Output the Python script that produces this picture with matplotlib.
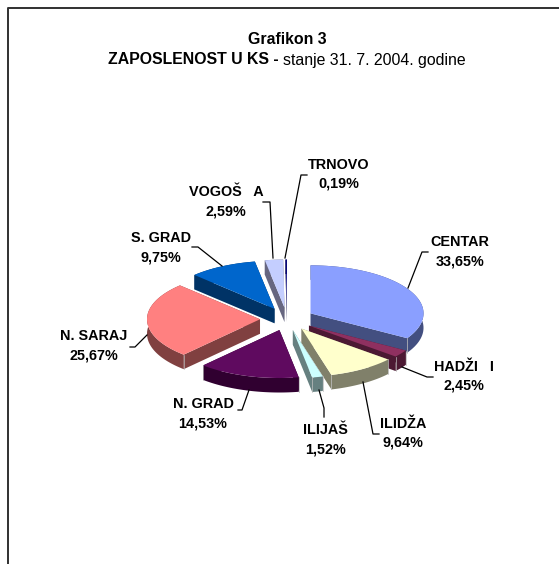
import numpy as np
import matplotlib
matplotlib.use("Agg")
import matplotlib.pyplot as plt
from matplotlib.patches import Polygon

plt.rcParams["font.family"] = ["Liberation Sans", "DejaVu Sans"]

names = ["CENTAR", "HADŽI   I", "ILIDŽA", "ILIJAŠ", "N. GRAD", "N. SARAJ", "S. GRAD", "VOGOŠ   A", "TRNOVO"]
labels = ["33,65%", "2,45%", "9,64%", "1,52%", "14,53%", "25,67%", "9,75%", "2,59%", "0,19%"]
values = [33.65, 2.45, 9.64, 1.52, 14.53, 25.67, 9.75, 2.59, 0.19]
top_colors = ["#8A9FFF", "#8F3060", "#FFFFCC", "#CCFFFF", "#5F0A5F", "#FF8080", "#0066CC", "#C4CEFF", "#000080"]
side_colors = ["#434F80", "#4C1933", "#80806A", "#668080", "#300030", "#804040", "#003366", "#666680", "#000040"]

# pixel layout
cx, cy = 287, 319
rx, ry = 113, 48
depth = 14.5
explode = 27

# text centre, then leader line points
label_pos = [(460, 251.5), (464, 376.5), (403, 433), (325, 440), (203, 413.5), (94, 345.5), (161, 247.5), (226, 201.5), (339, 174.5)]
leaders = [
    [(428, 252), (422, 252), (408, 288)],
    [(402, 367), (427, 377), (433, 377)],
    [(363, 382), (373, 434), (379, 434)],
    [(319, 390), (324, 408), (324, 417)],
    [(249, 390), (242, 410), (238, 410)],
    [(147, 335), (135, 347), (130, 347)],
    [(192, 247), (198, 247), (222, 266)],
    [(263, 202), (270, 202), (273, 258)],
    [(307, 175), (301, 175), (285, 258)],
]


def point(x0, y0, a):
    return x0 + rx * np.sin(a), y0 - ry * np.cos(a)


def draw_wedge(ax, start, end, top, side):
    mid = (start + end) / 2
    x0 = cx + explode * np.sin(mid)
    y0 = cy - explode * (ry / rx) * np.cos(mid)
    angles = np.linspace(start, end, 60)
    arc_x, arc_y = point(x0, y0, angles)
    for a in (start, end):
        ex, ey = point(x0, y0, a)
        wall = [(x0, y0), (ex, ey), (ex, ey + depth), (x0, y0 + depth)]
        ax.add_patch(Polygon(wall, fc=side, ec="none"))
    outer = list(zip(arc_x, arc_y)) + list(zip(arc_x[::-1], arc_y[::-1] + depth))
    ax.add_patch(Polygon(outer, fc=side, ec="none"))
    face = [(x0, y0)] + list(zip(arc_x, arc_y))
    ax.add_patch(Polygon(face, fc=top, ec="none"))
    for a in (start, end):
        ex, ey = point(x0, y0, a)
        if ey > y0 - 1 and np.sin(a) != 0:
            ax.plot([ex, ex], [ey, ey + depth], color="#B8B8B8", lw=0.5)


fig = plt.figure(figsize=(5.59, 5.64), dpi=100)
ax = fig.add_axes([0, 0, 1, 1])
ax.set_xlim(0, 559)
ax.set_ylim(564, 0)
ax.axis("off")

# frame runs off the page at right and bottom
ax.plot([8, 8, 559], [564, 8, 8], color="#303030", lw=1.4)

ax.text(287, 39, "Grafikon 3", ha="center", va="center", fontsize=11.4, fontweight="bold")
t1 = ax.text(279, 60, "ZAPOSLENOST U KS - ", ha="right", va="center", fontsize=11.4, fontweight="bold")
t2 = ax.text(279, 60, "stanje 31. 7. 2004. godine", ha="left", va="center", fontsize=11.4)

total = sum(values)
edges = np.concatenate([[0], np.cumsum(values)]) / total * 2 * np.pi
wedges = [(edges[i], edges[i + 1], i) for i in range(len(values))]
# paint back to front
wedges.sort(key=lambda w: -np.cos((w[0] + w[1]) / 2))
for start, end, i in wedges:
    draw_wedge(ax, start, end, top_colors[i], side_colors[i])

for i, name in enumerate(names):
    x, y = label_pos[i]
    ax.text(x, y - 9.5, name, ha="center", va="center", fontsize=10.4, fontweight="bold")
    ax.text(x, y + 9.5, labels[i], ha="center", va="center", fontsize=10.4, fontweight="bold")
    xs, ys = zip(*leaders[i])
    ax.plot(xs, ys, color="black", lw=0.9)

fig.canvas.draw()
r = fig.canvas.get_renderer()
w1 = t1.get_window_extent(r).width
w2 = t2.get_window_extent(r).width
left = 286.5 - (w1 + w2) / 2
t1.set_x(left + w1)
t2.set_x(left + w1)

fig.savefig("out.png", dpi=100)
